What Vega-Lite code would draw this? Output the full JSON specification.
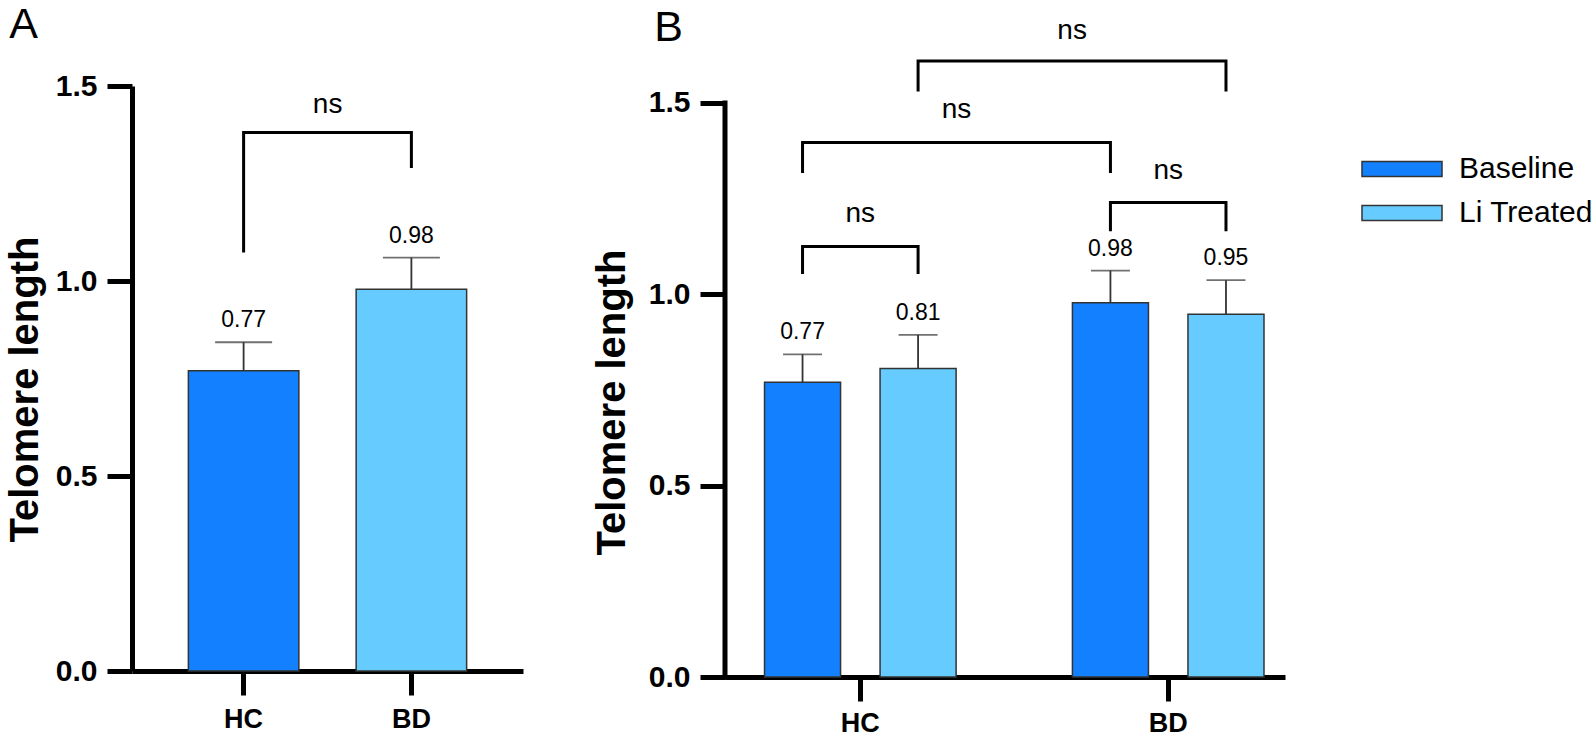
{
  "$schema": "https://vega.github.io/schema/vega-lite/v6.json",
  "padding": {"left": 5, "top": 3, "right": 0, "bottom": 0},
  "background": "white",
  "config": {
    "font": "Liberation Sans",
    "view": {"stroke": null},
    "axis": {"grid": false, "domainColor": "black", "tickColor": "black", "labelColor": "black", "titleColor": "black"}
  },
  "datasets": {
    "barsA": [
      {"group": "HC", "mean": 0.770, "upper": 0.843, "label": "0.77"},
      {"group": "BD", "mean": 0.979, "upper": 1.060, "label": "0.98"}
    ],
    "bracketA": [
      {"bracket": "a1", "group": "HC", "y": 1.073, "ord": 1},
      {"bracket": "a1", "group": "HC", "y": 1.381, "ord": 2},
      {"bracket": "a1", "group": "BD", "y": 1.381, "ord": 3},
      {"bracket": "a1", "group": "BD", "y": 1.290, "ord": 4}
    ],
    "nsA": [{"group": "HC", "y": 1.451, "text": "ns"}],
    "barsB": [
      {"group": "HC", "treatment": "Baseline", "mean": 0.770, "upper": 0.843, "label": "0.77"},
      {"group": "HC", "treatment": "Li Treated", "mean": 0.806, "upper": 0.894, "label": "0.81"},
      {"group": "BD", "treatment": "Baseline", "mean": 0.978, "upper": 1.062, "label": "0.98"},
      {"group": "BD", "treatment": "Li Treated", "mean": 0.948, "upper": 1.037, "label": "0.95"}
    ],
    "bracketB": [
      {"bracket": "b1", "group": "HC", "treatment": "Baseline", "y": 1.053, "ord": 1},
      {"bracket": "b1", "group": "HC", "treatment": "Baseline", "y": 1.125, "ord": 2},
      {"bracket": "b1", "group": "HC", "treatment": "Li Treated", "y": 1.125, "ord": 3},
      {"bracket": "b1", "group": "HC", "treatment": "Li Treated", "y": 1.053, "ord": 4},
      {"bracket": "b2", "group": "BD", "treatment": "Baseline", "y": 1.165, "ord": 1},
      {"bracket": "b2", "group": "BD", "treatment": "Baseline", "y": 1.240, "ord": 2},
      {"bracket": "b2", "group": "BD", "treatment": "Li Treated", "y": 1.240, "ord": 3},
      {"bracket": "b2", "group": "BD", "treatment": "Li Treated", "y": 1.165, "ord": 4},
      {"bracket": "b3", "group": "HC", "treatment": "Baseline", "y": 1.317, "ord": 1},
      {"bracket": "b3", "group": "HC", "treatment": "Baseline", "y": 1.397, "ord": 2},
      {"bracket": "b3", "group": "BD", "treatment": "Baseline", "y": 1.397, "ord": 3},
      {"bracket": "b3", "group": "BD", "treatment": "Baseline", "y": 1.317, "ord": 4},
      {"bracket": "b4", "group": "HC", "treatment": "Li Treated", "y": 1.530, "ord": 1},
      {"bracket": "b4", "group": "HC", "treatment": "Li Treated", "y": 1.610, "ord": 2},
      {"bracket": "b4", "group": "BD", "treatment": "Li Treated", "y": 1.610, "ord": 3},
      {"bracket": "b4", "group": "BD", "treatment": "Li Treated", "y": 1.530, "ord": 4}
    ],
    "nsPairB": [
      {"group": "HC", "y": 1.210, "text": "ns"},
      {"group": "BD", "y": 1.322, "text": "ns"}
    ],
    "nsWideB": [
      {"group": "HC", "treatment": "Baseline", "y": 1.482, "text": "ns"},
      {"group": "HC", "treatment": "Li Treated", "y": 1.689, "text": "ns"}
    ],
    "axisB": [{"start": 0, "end": 1.5}]
  },
  "spacing": 69,
  "resolve": {"scale": {"color": "independent"}, "legend": {"color": "independent"}},
  "hconcat": [
    {
      "title": {"text": "A", "anchor": "start", "frame": "bounds", "fontSize": 43, "fontWeight": "normal", "baseline": "alphabetic", "offset": -9.6, "color": "black", "dx": 4},
      "width": 391,
      "height": 585,
      "layer": [
        {
          "data": {"name": "barsA"},
          "mark": {"type": "bar", "stroke": "#333333", "strokeWidth": 1.5},
          "encoding": {
            "x": {"field": "group", "type": "nominal", "scale": {"domain": ["HC", "BD"], "paddingInner": 0.3415, "paddingOuter": 0.336},
              "axis": {"title": null, "labelAngle": 0, "domainWidth": 5, "tickWidth": 5, "tickSize": 24, "labelFontSize": 27, "labelFontWeight": "bold", "labelPadding": 11}},
            "y": {"field": "mean", "type": "quantitative", "scale": {"domain": [0, 1.5], "nice": false},
              "axis": {"values": [0, 0.5, 1, 1.5], "format": ".1f", "title": "Telomere length", "titleFontSize": 40, "titleFontWeight": "bold", "titlePadding": 10, "titleY": 303, "labelFontSize": 30, "labelFontWeight": "bold", "labelPadding": 10, "tickSize": 25, "tickWidth": 5, "domainWidth": 5}},
            "color": {"field": "group", "type": "nominal", "scale": {"domain": ["HC", "BD"], "range": ["#1380FF", "#66CCFF"]}, "legend": null}
          }
        },
        {
          "data": {"name": "barsA"},
          "mark": {"type": "rule", "color": "#333333", "strokeWidth": 1.8},
          "encoding": {
            "x": {"field": "group", "type": "nominal"},
            "y": {"field": "mean", "type": "quantitative"},
            "y2": {"field": "upper"}
          }
        },
        {
          "data": {"name": "barsA"},
          "mark": {"type": "tick", "color": "#333333", "thickness": 1.8, "size": 57},
          "encoding": {
            "x": {"field": "group", "type": "nominal"},
            "y": {"field": "upper", "type": "quantitative"}
          }
        },
        {
          "data": {"name": "barsA"},
          "mark": {"type": "text", "fontSize": 23, "baseline": "alphabetic", "dy": -15, "color": "black"},
          "encoding": {
            "x": {"field": "group", "type": "nominal"},
            "y": {"field": "upper", "type": "quantitative"},
            "text": {"field": "label"}
          }
        },
        {
          "data": {"name": "bracketA"},
          "mark": {"type": "line", "color": "black", "strokeWidth": 3, "strokeJoin": "miter", "strokeCap": "butt"},
          "encoding": {
            "x": {"field": "group", "type": "nominal"},
            "y": {"field": "y", "type": "quantitative"},
            "detail": {"field": "bracket"},
            "order": {"field": "ord"}
          }
        },
        {
          "data": {"name": "nsA"},
          "mark": {"type": "text", "fontSize": 28, "baseline": "middle", "dx": 84, "color": "black"},
          "encoding": {
            "x": {"field": "group", "type": "nominal"},
            "y": {"field": "y", "type": "quantitative"},
            "text": {"field": "text"}
          }
        }
      ]
    },
    {
      "title": {"text": "B", "anchor": "start", "frame": "bounds", "fontSize": 43, "fontWeight": "normal", "baseline": "alphabetic", "offset": -67, "color": "black", "dx": 62},
      "width": 560,
      "height": 591,
      "resolve": {"scale": {"x": "independent"}},
      "layer": [
        {
          "layer": [
            {
              "data": {"name": "barsB"},
              "mark": {"type": "bar", "stroke": "#333333", "strokeWidth": 1.5},
              "encoding": {
                "x": {"field": "group", "type": "nominal", "scale": {"domain": ["HC", "BD"], "paddingInner": 0.3778, "paddingOuter": 0.0983, "align": 0.653},
                  "axis": {"title": null, "labelAngle": 0, "domainWidth": 5, "tickWidth": 5, "tickSize": 24, "labelFontSize": 27, "labelFontWeight": "bold", "labelPadding": 9}},
                "xOffset": {"field": "treatment", "type": "nominal", "scale": {"domain": ["Baseline", "Li Treated"], "paddingInner": 0.342, "paddingOuter": 0}},
                "y": {"field": "mean", "type": "quantitative", "scale": {"domain": [0, 1.5444], "nice": false},
                  "axis": {"values": [0, 0.5, 1, 1.5], "format": ".1f", "domain": false, "title": "Telomere length", "titleFontSize": 40, "titleFontWeight": "bold", "titlePadding": 16, "titleY": 316, "labelFontSize": 30, "labelFontWeight": "bold", "labelPadding": 10, "tickSize": 25, "tickWidth": 5}},
                "color": {"field": "treatment", "type": "nominal", "scale": {"domain": ["Baseline", "Li Treated"], "range": ["#1380FF", "#66CCFF"]},
                  "legend": {"title": null, "orient": "none", "legendX": 656, "legendY": 62, "padding": 0, "symbolType": "M-2,-0.375H2V0.375H-2Z", "symbolSize": 1600, "symbolStrokeColor": "#333333", "symbolStrokeWidth": 1.5, "symbolOpacity": 1, "labelFontSize": 30, "labelColor": "black", "labelOffset": 36, "rowPadding": 8}}
              }
            },
            {
              "data": {"name": "barsB"},
              "mark": {"type": "rule", "color": "#333333", "strokeWidth": 1.8},
              "encoding": {
                "x": {"field": "group", "type": "nominal"},
                "xOffset": {"field": "treatment", "type": "nominal"},
                "y": {"field": "mean", "type": "quantitative"},
                "y2": {"field": "upper"}
              }
            },
            {
              "data": {"name": "barsB"},
              "mark": {"type": "tick", "color": "#333333", "thickness": 1.8, "size": 39},
              "encoding": {
                "x": {"field": "group", "type": "nominal"},
                "xOffset": {"field": "treatment", "type": "nominal"},
                "y": {"field": "upper", "type": "quantitative"}
              }
            },
            {
              "data": {"name": "barsB"},
              "mark": {"type": "text", "fontSize": 23, "baseline": "alphabetic", "dy": -15, "color": "black"},
              "encoding": {
                "x": {"field": "group", "type": "nominal"},
                "xOffset": {"field": "treatment", "type": "nominal"},
                "y": {"field": "upper", "type": "quantitative"},
                "text": {"field": "label"}
              }
            },
            {
              "data": {"name": "bracketB"},
              "mark": {"type": "line", "color": "black", "strokeWidth": 3, "strokeJoin": "miter", "strokeCap": "butt"},
              "encoding": {
                "x": {"field": "group", "type": "nominal"},
                "xOffset": {"field": "treatment", "type": "nominal"},
                "y": {"field": "y", "type": "quantitative"},
                "detail": {"field": "bracket"},
                "order": {"field": "ord"}
              }
            },
            {
              "data": {"name": "nsPairB"},
              "mark": {"type": "text", "fontSize": 28, "baseline": "middle", "color": "black"},
              "encoding": {
                "x": {"field": "group", "type": "nominal"},
                "y": {"field": "y", "type": "quantitative"},
                "text": {"field": "text"}
              }
            },
            {
              "data": {"name": "nsWideB"},
              "mark": {"type": "text", "fontSize": 28, "baseline": "middle", "dx": 154, "color": "black"},
              "encoding": {
                "x": {"field": "group", "type": "nominal"},
                "xOffset": {"field": "treatment", "type": "nominal"},
                "y": {"field": "y", "type": "quantitative"},
                "text": {"field": "text"}
              }
            }
          ]
        },
        {
          "data": {"name": "axisB"},
          "mark": {"type": "rule", "color": "black", "strokeWidth": 5, "strokeCap": "square"},
          "encoding": {
            "x": {"datum": 0, "type": "quantitative", "scale": {"domain": [0, 1]}, "axis": null},
            "y": {"field": "start", "type": "quantitative"},
            "y2": {"field": "end"}
          }
        }
      ]
    }
  ]
}
